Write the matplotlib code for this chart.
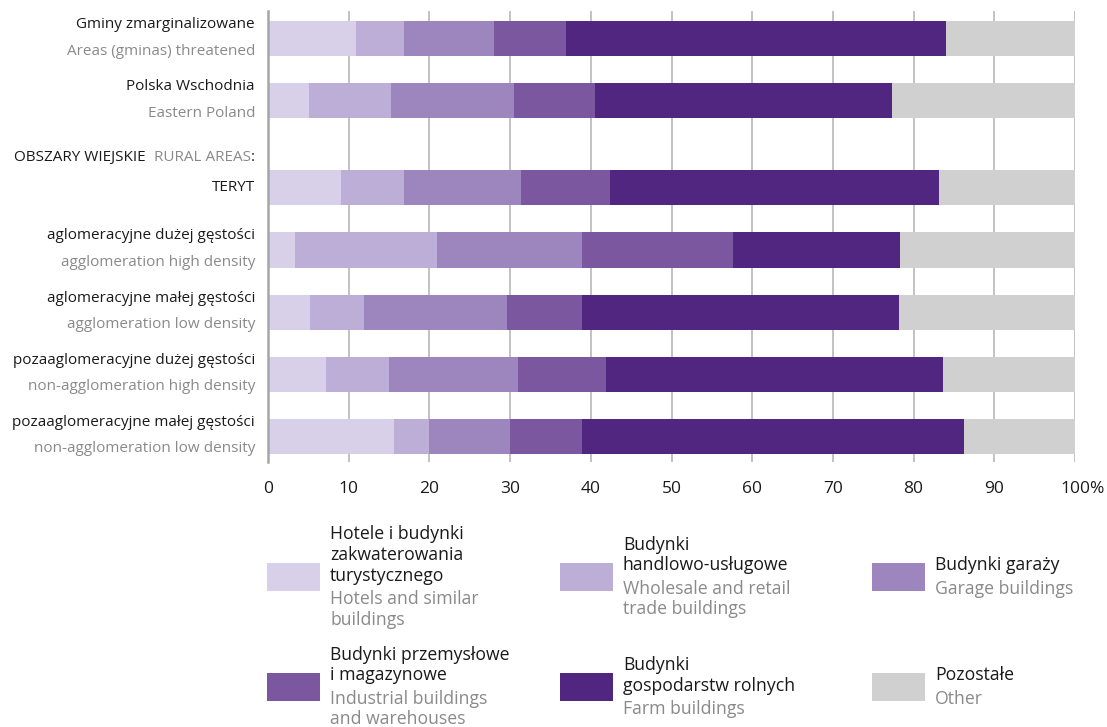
import matplotlib
matplotlib.use("Agg")
import matplotlib.pyplot as plt
from matplotlib import transforms
from matplotlib.patches import Rectangle
import numpy as np

plt.rcParams['font.family'] = ['Open Sans', 'DejaVu Sans']
FS = 11       # row labels
FS_TICK = 12.5
FS_LEG = 12.7

BLACK = '#1a1a1a'
GREY = '#8a8a8a'

# row labels (Polish / English)
labels_pl = ['Gminy zmarginalizowane', 'Polska Wschodnia', 'TERYT',
             'aglomeracyjne dużej gęstości', 'aglomeracyjne małej gęstości',
             'pozaaglomeracyjne dużej gęstości', 'pozaaglomeracyjne małej gęstości']
labels_en = ['Areas (gminas) threatened', 'Eastern Poland', '',
             'agglomeration high density', 'agglomeration low density',
             'non-agglomeration high density', 'non-agglomeration low density']

# shares in %, one list per building type
hotels = [10.9, 5.1, 9.0, 3.3, 5.2, 7.2, 15.6]
trade = [6.0, 10.1, 7.8, 17.7, 6.7, 7.8, 4.3]
garage = [11.1, 15.3, 14.6, 17.9, 17.7, 16.0, 10.1]
industrial = [8.9, 10.0, 11.0, 18.7, 9.3, 10.9, 8.9]
farm = [47.1, 36.8, 40.7, 20.7, 39.3, 41.7, 47.4]
other = [16.0, 22.7, 16.9, 21.7, 21.8, 16.4, 13.7]

series = [hotels, trade, garage, industrial, farm, other]
colors = ['#d8d0e8', '#bdaed7', '#9d85bd', '#7b57a0', '#512680', '#d0d0d0']

legend_pl = [['Hotele i budynki', 'zakwaterowania', 'turystycznego'],
             ['Budynki', 'handlowo-usługowe'],
             ['Budynki garaży'],
             ['Budynki przemysłowe', 'i magazynowe'],
             ['Budynki', 'gospodarstw rolnych'],
             ['Pozostałe']]
legend_en = [['Hotels and similar', 'buildings'],
             ['Wholesale and retail', 'trade buildings'],
             ['Garage buildings'],
             ['Industrial buildings', 'and warehouses'],
             ['Farm buildings'],
             ['Other']]

ticks = [0, 10, 20, 30, 40, 50, 60, 70, 80, 90, 100]
tick_labels = ['0', '10', '20', '30', '40', '50', '60', '70', '80', '90', '100%']

# row positions: extra gap before the rural-areas block
gap = 87 / 62
ypos = [0, 1, 1 + gap, 2 + gap, 3 + gap, 4 + gap, 5 + gap]
header_y = ypos[2] - 30.5 / 62

W, H = 1107, 727
fig = plt.figure(figsize=(W / 100, H / 100), dpi=100)
ax = fig.add_axes([268 / W, 1 - 462 / H, 807 / W, 451 / H])

left = np.zeros(len(ypos))
for vals, c in zip(series, colors):
    ax.barh(ypos, vals, left=left, height=35 / 62, color=c, zorder=2, linewidth=0)
    left += np.array(vals)

ax.set_xlim(0, 100)
ax.set_ylim(ypos[-1] + 25.5 / 62, -27.5 / 62)
ax.set_xticks(ticks)
ax.set_xticklabels(tick_labels, fontsize=FS_TICK, color=BLACK)
ax.tick_params(axis='x', length=0, pad=14)
ax.set_yticks([])
for x in ticks[1:]:
    ax.axvline(x, color='#bdbdbd', lw=1.3, zorder=1)
for s in ['top', 'right', 'bottom']:
    ax.spines[s].set_visible(False)
ax.spines['left'].set_color('#a6a6a6')
ax.spines['left'].set_linewidth(1.8)

# keep the number centred, with '%' hanging to the right
lab = ax.get_xticklabels()[-1]
lab.set_transform(lab.get_transform() + transforms.ScaledTranslation(8 / 100, 0, fig.dpi_scale_trans))

trans = transforms.blended_transform_factory(ax.transAxes, ax.transData)
lx = (255 - 268) / 807
for y, pl, en in zip(ypos, labels_pl, labels_en):
    if en:
        ax.text(lx, y - 14 / 62, pl, transform=trans, ha='right', va='center', fontsize=FS, color=BLACK)
        ax.text(lx, y + 12.5 / 62, en, transform=trans, ha='right', va='center', fontsize=FS, color=GREY)
    else:
        ax.text(lx, y, pl, transform=trans, ha='right', va='center', fontsize=FS, color=BLACK)

# section header built right to left
t1 = ax.text(lx, header_y, ':', transform=trans, ha='right', va='center', fontsize=FS, color=BLACK)
t2 = ax.annotate('RURAL AREAS', xy=(0, 0), xycoords=t1, xytext=(0, 0), textcoords='offset points',
                 ha='right', va='bottom', fontsize=FS, color=GREY)
ax.annotate('OBSZARY WIEJSKIE', xy=(0, 0), xycoords=t2, xytext=(-6, 0), textcoords='offset points',
            ha='right', va='bottom', fontsize=FS, color=BLACK)

# legend drawn in pixel coordinates
lax = fig.add_axes([0, 0, 1, 1], zorder=-1)
lax.set_xlim(0, W)
lax.set_ylim(H, 0)
lax.axis('off')
sw_x = [267, 560, 872]
row_c = [577, 687]
for i, c in enumerate(colors):
    col, row = i % 3, i // 3
    cx, cy = sw_x[col], row_c[row]
    lax.add_patch(Rectangle((cx, cy - 14), 53, 28, color=c, lw=0))
    pl, en = legend_pl[i], legend_en[i]
    total = (len(pl) - 1) * 21 + 23.5 + (len(en) - 1) * 20.5
    y = cy - total / 2
    for s in pl:
        lax.text(cx + 63, y, s, ha='left', va='center', fontsize=FS_LEG, color=BLACK)
        y += 21
    y += 2.5
    for s in en:
        lax.text(cx + 63, y, s, ha='left', va='center', fontsize=FS_LEG, color=GREY)
        y += 20.5

fig.savefig('out.png', dpi=100)
